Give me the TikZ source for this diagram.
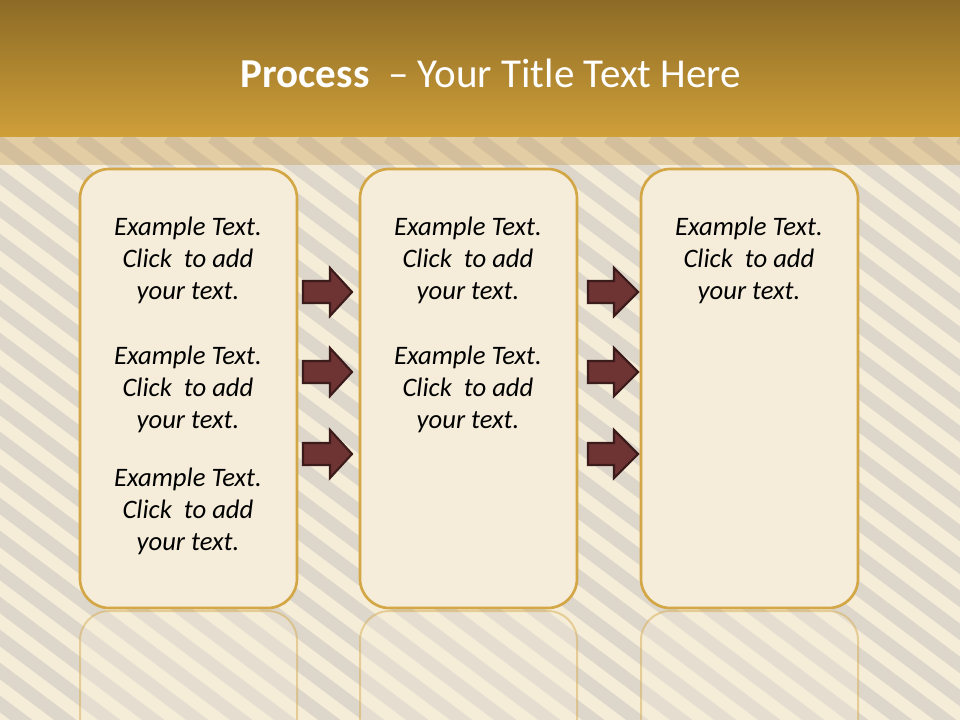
\documentclass[tikz,border=0pt]{standalone}
\usepackage{fontspec}
\setmainfont{Carlito}
\definecolor{hdrtop}{HTML}{8D6B26}
\definecolor{hdrbot}{HTML}{CF9F39}
\definecolor{bgcream}{HTML}{F5EDD8}
\definecolor{stripe}{HTML}{DDD6CB}
\definecolor{band}{HTML}{C89E58}
\definecolor{boxfill}{HTML}{F5EDDA}
\definecolor{boxline}{HTML}{D3A646}
\definecolor{arrfill}{HTML}{6E3333}
\definecolor{arrline}{HTML}{3C1B1B}
\tikzset{
  stepbox/.style={draw=boxline, line width=2pt, fill=boxfill, rounded corners=22pt},
  reflbox/.style={draw=boxline, draw opacity=0.45, line width=1.5pt, fill=boxfill, fill opacity=0.35, rounded corners=22pt},
  flowarrow/.style={draw=arrline, line width=1.6pt, fill=arrfill, line join=miter},
  bodytext/.style={align=center, font=\fontsize{20}{24}\selectfont\itshape, text=black, inner sep=0pt},
}
\newcommand{\exampletext}{Example Text.\\Click\ \ to add\\your text.}
\begin{document}
\begin{tikzpicture}[x=0.75pt, y=-0.75pt]
\useasboundingbox (0,0) rectangle (960,720);
% background
\fill[bgcream] (0,0) rectangle (960,720);
\begin{scope}
  \clip (0,137) rectangle (960,720);
  \foreach \c in {-1020,-976,...,1000} {
    \draw[stripe, line width=10pt] (\c,137) -- ++(1000,750);
  }
\end{scope}
% header
\shade[top color=hdrtop, bottom color=hdrbot] (0,0) rectangle (960,137);
\fill[band, opacity=0.4] (0,137) rectangle (960,165);
\node[text=white, font=\fontsize{30.8}{36}\selectfont, anchor=base] (title) at (491,88)
  {\textbf{Process}\ \ – Your Title Text Here};
% reflections
\foreach \xl in {80,360,641} {
  \begin{scope}
    \clip (0,610) rectangle (960,720);
    \path[reflbox] (\xl,611) rectangle ++(217,440);
  \end{scope}
}
% boxes
\path[stepbox] (80,169) rectangle (297,608);
\path[stepbox] (360,169) rectangle (577,608);
\path[stepbox] (641,169) rectangle (858,608);
% texts
\node[bodytext] (ta1) at (188,260) {\exampletext};
\node[bodytext] (ta2) at (188,389) {\exampletext};
\node[bodytext] (ta3) at (188,511) {\exampletext};
\node[bodytext] (tb1) at (468,260) {\exampletext};
\node[bodytext] (tb2) at (468,389) {\exampletext};
\node[bodytext] (tc1) at (749,260) {\exampletext};
% arrows
\foreach \nm/\xa/\xb/\xc/\y in {aa/303/330/352/292, ab/303/330/352/372, ac/303/330/352/454,
                                ba/588/614/638/292, bb/588/614/638/372, bc/588/614/638/454} {
  \draw[flowarrow] (\xa,\y-11) -- (\xb,\y-11) -- (\xb,\y-24) -- (\xc,\y) -- (\xb,\y+24) -- (\xb,\y+11) -- (\xa,\y+11) -- cycle;
  \coordinate (\nm) at (\xc,\y);
}
\end{tikzpicture}
\end{document}
